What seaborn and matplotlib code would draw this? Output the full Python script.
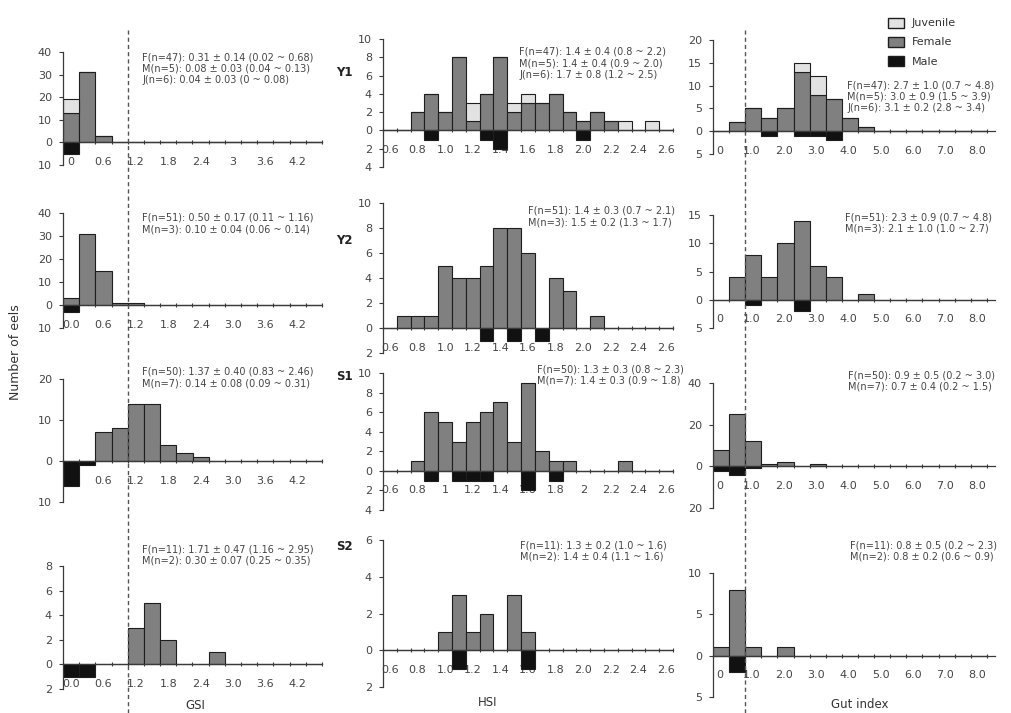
import numpy as np
import pandas as pd
import matplotlib
matplotlib.use("Agg")
import matplotlib.pyplot as plt
from matplotlib.lines import Line2D
from matplotlib.patches import Patch
from matplotlib.ticker import FuncFormatter
from matplotlib.transforms import blended_transform_factory
import seaborn as sns

# ---------------------------------------------------------------- data
# bin centres (one bar per bin)
gsi_bins = [0.0, 0.3, 0.6, 0.9, 1.2, 1.5, 1.8, 2.1, 2.4, 2.7, 3.0, 3.3, 3.6, 3.9, 4.2, 4.5]
hsi_bins = [0.6, 0.7, 0.8, 0.9, 1.0, 1.1, 1.2, 1.3, 1.4, 1.5, 1.6, 1.7, 1.8, 1.9,
            2.0, 2.1, 2.2, 2.3, 2.4, 2.5, 2.6]
gut_bins = [0.05, 0.55, 1.05, 1.55, 2.05, 2.55, 3.05, 3.55, 4.05, 4.55, 5.05,
            5.55, 6.05, 6.55, 7.05, 7.55, 8.05]

# counts per bin, starting at the first bin (missing tail = 0)
gsi_y1_female = [13, 31, 3]
gsi_y1_juvenile = [6]
gsi_y1_male = [5]
gsi_y2_female = [3, 31, 15, 1, 1]
gsi_y2_male = [3]
gsi_s1_female = [0, 0, 7, 8, 14, 14, 4, 2, 1]
gsi_s1_male = [6, 1]
gsi_s2_female = [0, 0, 0, 0, 3, 5, 2, 0, 0, 1]
gsi_s2_male = [1, 1]

hsi_y1_female = [0, 0, 2, 4, 2, 8, 1, 4, 8, 2, 3, 3, 4, 2, 1, 2, 1]
hsi_y1_juvenile = [0, 0, 0, 0, 0, 0, 2, 0, 0, 1, 1, 0, 0, 0, 0, 0, 0, 1, 0, 1]
hsi_y1_male = [0, 0, 0, 1, 0, 0, 0, 1, 2, 0, 0, 0, 0, 0, 1]
hsi_y2_female = [0, 1, 1, 1, 5, 4, 4, 5, 8, 8, 6, 0, 4, 3, 0, 1]
hsi_y2_male = [0, 0, 0, 0, 0, 0, 0, 1, 0, 1, 0, 1]
hsi_s1_female = [0, 0, 1, 6, 5, 3, 5, 6, 7, 3, 9, 2, 1, 1, 0, 0, 0, 1]
hsi_s1_male = [0, 0, 0, 1, 0, 1, 1, 1, 0, 0, 2, 0, 1]
hsi_s2_female = [0, 0, 0, 0, 1, 3, 1, 2, 0, 3, 1]
hsi_s2_male = [0, 0, 0, 0, 0, 1, 0, 0, 0, 0, 1]

gut_y1_female = [0, 2, 5, 3, 5, 13, 8, 7, 3, 1]
gut_y1_juvenile = [0, 0, 0, 0, 0, 2, 4]
gut_y1_male = [0, 0, 0, 1, 0, 1, 1, 2]
gut_y2_female = [0, 4, 8, 4, 10, 14, 6, 4, 0, 1]
gut_y2_male = [0, 0, 1, 0, 0, 2]
gut_s1_female = [8, 25, 12, 1, 2, 0, 1]
gut_s1_male = [2, 4, 1]
gut_s2_female = [1, 8, 1, 0, 1]
gut_s2_male = [0, 2]

# tick labels along the zero line
gsi_ticks = [0.0, 0.6, 1.2, 1.8, 2.4, 3.0, 3.6, 4.2]
gsi_labels_y1 = ["0", "0.6", "1.2", "1.8", "2.4", "3", "3.6", "4.2"]
gsi_labels = ["0.0", "0.6", "1.2", "1.8", "2.4", "3.0", "3.6", "4.2"]
hsi_ticks = [0.6, 0.8, 1.0, 1.2, 1.4, 1.6, 1.8, 2.0, 2.2, 2.4, 2.6]
hsi_labels = ["0.6", "0.8", "1.0", "1.2", "1.4", "1.6", "1.8", "2.0", "2.2", "2.4", "2.6"]
hsi_labels_s1 = ["0.6", "0.8", "1", "1.2", "1.4", "1.6", "1.8", "2", "2.2", "2.4", "2.6"]
gut_ticks = [0, 1, 2, 3, 4, 5, 6, 7, 8]
gut_labels = ["0", "1.0", "2.0", "3.0", "4.0", "5.0", "6.0", "7.0", "8.0"]

# y ticks per panel (negative side = males)
gsi_yticks = [[-10, 0, 10, 20, 30, 40], [-10, 0, 10, 20, 30, 40],
              [-10, 0, 10, 20], [-2, 0, 2, 4, 6, 8]]
hsi_yticks = [[-4, -2, 0, 2, 4, 6, 8, 10], [-2, 0, 2, 4, 6, 8, 10],
              [-4, -2, 0, 2, 4, 6, 8, 10], [-2, 0, 2, 4, 6]]
gut_yticks = [[-5, 0, 5, 10, 15, 20], [-5, 0, 5, 10, 15],
              [-20, 0, 20, 40], [-5, 0, 5, 10]]

row_names = ["Y1", "Y2", "S1", "S2"]

gsi_notes = [
    ["F(n=47): 0.31 ± 0.14 (0.02 ~ 0.68)", "M(n=5): 0.08 ± 0.03 (0.04 ~ 0.13)", "J(n=6): 0.04 ± 0.03 (0 ~ 0.08)"],
    ["F(n=51): 0.50 ± 0.17 (0.11 ~ 1.16)", "M(n=3): 0.10 ± 0.04 (0.06 ~ 0.14)"],
    ["F(n=50): 1.37 ± 0.40 (0.83 ~ 2.46)", "M(n=7): 0.14 ± 0.08 (0.09 ~ 0.31)"],
    ["F(n=11): 1.71 ± 0.47 (1.16 ~ 2.95)", "M(n=2): 0.30 ± 0.07 (0.25 ~ 0.35)"],
]
hsi_notes = [
    ["F(n=47): 1.4 ± 0.4 (0.8 ~ 2.2)", "M(n=5): 1.4 ± 0.4 (0.9 ~ 2.0)", "J(n=6): 1.7 ± 0.8 (1.2 ~ 2.5)"],
    ["F(n=51): 1.4 ± 0.3 (0.7 ~ 2.1)", "M(n=3): 1.5 ± 0.2 (1.3 ~ 1.7)"],
    ["F(n=50): 1.3 ± 0.3 (0.8 ~ 2.3)", "M(n=7): 1.4 ± 0.3 (0.9 ~ 1.8)"],
    ["F(n=11): 1.3 ± 0.2 (1.0 ~ 1.6)", "M(n=2): 1.4 ± 0.4 (1.1 ~ 1.6)"],
]
gut_notes = [
    ["F(n=47): 2.7 ± 1.0 (0.7 ~ 4.8)", "M(n=5): 3.0 ± 0.9 (1.5 ~ 3.9)", "J(n=6): 3.1 ± 0.2 (2.8 ~ 3.4)"],
    ["F(n=51): 2.3 ± 0.9 (0.7 ~ 4.8)", "M(n=3): 2.1 ± 1.0 (1.0 ~ 2.7)"],
    ["F(n=50): 0.9 ± 0.5 (0.2 ~ 3.0)", "M(n=7): 0.7 ± 0.4 (0.2 ~ 1.5)"],
    ["F(n=11): 0.8 ± 0.5 (0.2 ~ 2.3)", "M(n=2): 0.8 ± 0.2 (0.6 ~ 0.9)"],
]

# ---------------------------------------------------------------- style
sns.set_style("ticks")
plt.rcParams["font.family"] = ["DejaVu Sans"]

FEMALE = "#808080"
JUVENILE = "#e2e2e2"
MALE = "#111111"
EDGE = "#1e1e1e"
AXIS = "#3a3a3a"
TEXT = "#454545"

W, H = 1011, 713
fig = plt.figure(figsize=(W / 100, H / 100), dpi=100)
fig.patch.set_facecolor("white")


def px_axes(x0, x1, y_top, y_bot):
    return fig.add_axes([x0 / W, 1 - y_bot / H, (x1 - x0) / W, (y_bot - y_top) / H])


def pad(vals, n):
    return np.array(list(vals) + [0] * (n - len(vals)), dtype=float)


def draw_hist(ax, centers, width, female, male, juvenile=None):
    centers = np.asarray(centers, dtype=float)
    n = len(centers)
    lo, hi = centers[0] - width / 2, centers[-1] + width / 2
    groups = [("Female", pad(female, n))]
    if juvenile is not None:
        groups.insert(0, ("Juvenile", pad(juvenile, n)))
    df = pd.concat(
        [pd.DataFrame({"value": centers, "count": c, "group": g}) for g, c in groups],
        ignore_index=True,
    )
    # females at the base with juveniles stacked on top
    sns.histplot(data=df, x="value", weights="count", hue="group",
                 hue_order=[g for g, _ in groups], multiple="stack",
                 binwidth=width, binrange=(lo, hi),
                 palette={"Female": FEMALE, "Juvenile": JUVENILE}, alpha=1,
                 edgecolor=EDGE, linewidth=0.8, legend=False, ax=ax)
    # males hang below the zero line
    mdf = pd.DataFrame({"value": centers, "count": -pad(male, n)})
    sns.histplot(data=mdf, x="value", weights="count", binwidth=width,
                 binrange=(lo, hi), color=MALE, alpha=1, edgecolor=EDGE,
                 linewidth=0.8, ax=ax)
    ax.set(xlabel="", ylabel="")
    return np.append(centers - width / 2, hi)


def style_axes(ax, edges, xlim, ticks, labels, yticks):
    ax.set_facecolor("none")
    ax.set_xlim(*xlim)
    ax.set_ylim(yticks[0], yticks[-1])
    for s in ("top", "right"):
        ax.spines[s].set_visible(False)
    ax.spines["bottom"].set_position(("data", 0))
    for s in ("left", "bottom"):
        ax.spines[s].set_color(AXIS)
        ax.spines[s].set_linewidth(0.9)
    ax.set_xticks(ticks)
    ax.set_xticklabels(labels)
    ax.set_xticks(edges, minor=True)
    ax.tick_params(axis="x", which="major", length=0, pad=10.5,
                   labelsize=8, labelcolor=TEXT)
    ax.tick_params(axis="x", which="minor", length=3, width=0.8,
                   direction="inout", color=AXIS)
    ax.set_yticks(yticks)
    ax.yaxis.set_major_formatter(FuncFormatter(lambda v, p: f"{abs(v):g}"))
    ax.tick_params(axis="y", length=3, width=0.8, direction="out", pad=5,
                   labelsize=8, labelcolor=TEXT, color=AXIS)


def note(x, y, lines):
    fig.text(x / W, 1 - (y - 5) / H, "\n".join(lines), ha="left", va="top",
             fontsize=7, color=TEXT, linespacing=1.2)


# panel boxes in pixels: (x0, x1) per column, (top, bottom) per row
col_x = {"gsi": (63, 322), "hsi": (383, 673), "gut": (713, 995)}
gsi_rows = [(52, 165), (213, 328), (379, 502), (566, 689)]
hsi_rows = [(39, 167), (203, 353), (373, 510), (540, 687)]
gut_rows = [(40, 154), (215, 328), (383, 508), (573, 697)]

gsi_series = [(gsi_y1_female, gsi_y1_male, gsi_y1_juvenile),
              (gsi_y2_female, gsi_y2_male, None),
              (gsi_s1_female, gsi_s1_male, None),
              (gsi_s2_female, gsi_s2_male, None)]
hsi_series = [(hsi_y1_female, hsi_y1_male, hsi_y1_juvenile),
              (hsi_y2_female, hsi_y2_male, None),
              (hsi_s1_female, hsi_s1_male, None),
              (hsi_s2_female, hsi_s2_male, None)]
gut_series = [(gut_y1_female, gut_y1_male, gut_y1_juvenile),
              (gut_y2_female, gut_y2_male, None),
              (gut_s1_female, gut_s1_male, None),
              (gut_s2_female, gut_s2_male, None)]

gsi_note_xy = [(142, 57), (142, 218), (142, 372), (142, 549)]
hsi_note_xy = [(519, 52), (528, 211), (537, 369), (520, 545)]
gut_note_xy = [(847, 85), (845, 217), (848, 375), (850, 545)]

axes_gsi, axes_gut = [], []
for i in range(4):
    # GSI column
    ax = px_axes(*col_x["gsi"], *gsi_rows[i])
    f, m, j = gsi_series[i]
    e = draw_hist(ax, gsi_bins, 0.3, f, m, j)
    style_axes(ax, e, (e[0], e[-1]), gsi_ticks,
               gsi_labels_y1 if i == 0 else gsi_labels, gsi_yticks[i])
    axes_gsi.append(ax)
    note(*gsi_note_xy[i], gsi_notes[i])

    # HSI column
    ax = px_axes(*col_x["hsi"], *hsi_rows[i])
    f, m, j = hsi_series[i]
    e = draw_hist(ax, hsi_bins, 0.1, f, m, j)
    style_axes(ax, e, (e[0], e[-1]), hsi_ticks,
               hsi_labels_s1 if i == 2 else hsi_labels, hsi_yticks[i])
    note(*hsi_note_xy[i], hsi_notes[i])

    # gut index column
    ax = px_axes(*col_x["gut"], *gut_rows[i])
    f, m, j = gut_series[i]
    e = draw_hist(ax, gut_bins, 0.5, f, m, j)
    style_axes(ax, e, (e[0], 8.55), gut_ticks, gut_labels, gut_yticks[i])
    axes_gut.append(ax)
    note(*gut_note_xy[i], gut_notes[i])

# dashed reference lines running down the GSI and gut-index columns
for ax, xv in ((axes_gsi[0], 1.05), (axes_gut[0], 0.8)):
    tr = blended_transform_factory(ax.transData, fig.transFigure)
    fig.add_artist(Line2D([xv, xv], [0.0, 1 - 30 / H], transform=tr,
                          color="#555555", lw=1.0, ls=(0, (3, 2.2))))

# row labels
for name, y in zip(row_names, [73, 240, 376, 546]):
    fig.text(344 / W, 1 - y / H, name, ha="center", va="center",
             fontsize=8.5, fontweight="bold", color="#222222")

# axis titles
fig.text(16 / W, 1 - 352 / H, "Number of eels", rotation=90, ha="center",
         va="center", fontsize=9, color="#333333")
fig.text(195 / W, 1 - 712 / H, "GSI", ha="center", va="bottom", fontsize=8.5, color="#333333")
fig.text(488 / W, 1 - 702 / H, "HSI", ha="center", va="center", fontsize=8.5, color="#333333")
fig.text(860 / W, 1 - 704 / H, "Gut index", ha="center", va="center", fontsize=8.5, color="#333333")

# legend
handles = [Patch(facecolor=JUVENILE, edgecolor=EDGE, lw=1, label="Juvenile"),
           Patch(facecolor=FEMALE, edgecolor=EDGE, lw=1, label="Female"),
           Patch(facecolor=MALE, edgecolor=EDGE, lw=1, label="Male")]
fig.legend(handles=handles, loc="upper left", bbox_to_anchor=(882 / W, 1 - 12 / H),
           frameon=False, fontsize=8, handlelength=1.5, handleheight=1.0,
           handletextpad=0.7, labelspacing=0.75, borderpad=0, labelcolor="#333333")

fig.savefig("out.png", dpi=100, facecolor="white")
